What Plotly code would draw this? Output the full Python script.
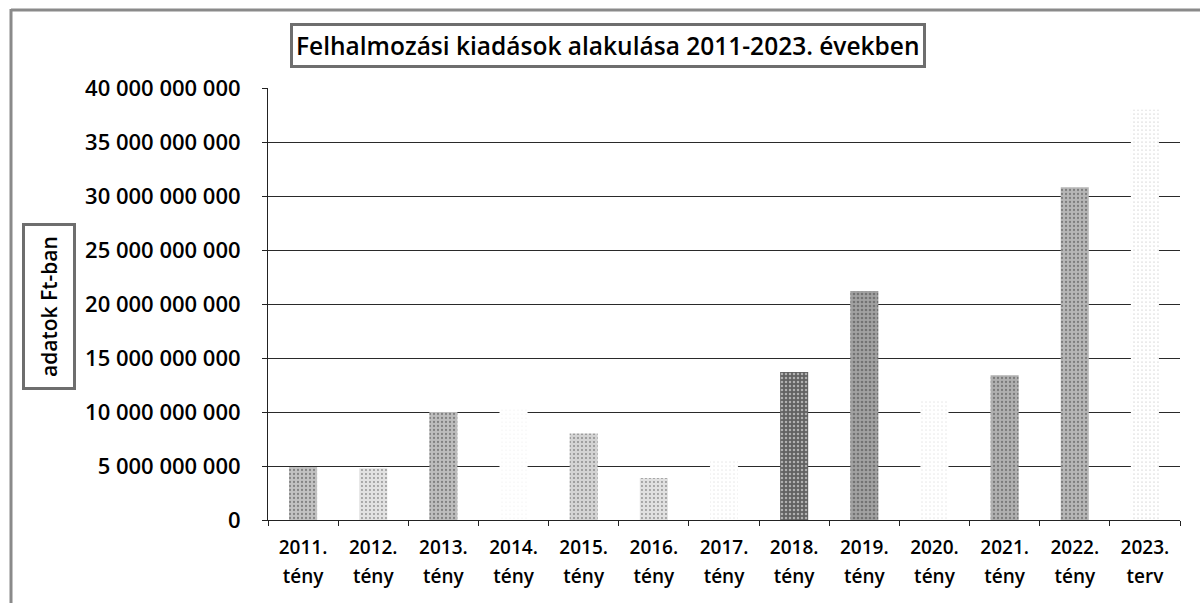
import plotly.graph_objects as go

# Felhalmozási kiadások (Ft) évenként
years = ["2011.", "2012.", "2013.", "2014.", "2015.", "2016.", "2017.",
         "2018.", "2019.", "2020.", "2021.", "2022.", "2023."]
kinds = ["tény", "tény", "tény", "tény", "tény", "tény", "tény",
         "tény", "tény", "tény", "tény", "tény", "terv"]
values = [4.9e9, 4.8e9, 10.0e9, 10.4e9, 8.0e9, 3.9e9, 5.6e9,
          13.7e9, 21.2e9, 11.1e9, 13.4e9, 30.8e9, 38.0e9]

y_tickvals = [0, 5e9, 10e9, 15e9, 20e9, 25e9, 30e9, 35e9, 40e9]
y_ticktext = ["0", "5 000 000 000", "10 000 000 000", "15 000 000 000",
              "20 000 000 000", "25 000 000 000", "30 000 000 000",
              "35 000 000 000", "40 000 000 000"]

categories = [f"{y} {k}" for y, k in zip(years, kinds)]
x_ticktext = [f"<span style='font-size:19px'>{y}</span><br>"
              f"<span style='font-size:19px'>{k}</span>" for y, k in zip(years, kinds)]

# grayscale fills: base colour, dot colour, dot density
bg_colors = ["#c2c2c2", "#e2e2e2", "#bdbdbd", "#ffffff", "#d3d3d3", "#e0e0e0", "#ffffff",
             "#626262", "#a2a2a2", "#ffffff", "#b0b0b0", "#b6b6b6", "#ffffff"]
fg_colors = ["#666666", "#888888", "#666666", "#b0b0b0", "#777777", "#888888", "#999999",
             "#222222", "#2e2e2e", "#999999", "#555555", "#666666", "#999999"]
solidity = [0.25, 0.18, 0.25, 0.02, 0.2, 0.18, 0.04,
            0.3, 0.35, 0.04, 0.25, 0.25, 0.05]

FONT = "Open Sans"

fig = go.Figure(go.Bar(
    x=categories,
    y=values,
    marker=dict(
        color=bg_colors,
        line=dict(width=0),
        pattern=dict(shape=".", fgcolor=fg_colors, size=4,
                     solidity=solidity, fillmode="overlay"),
    ),
    hoverinfo="skip",
))

fig.update_layout(
    width=1200, height=603,
    margin=dict(l=268, r=20, t=88, b=83),
    paper_bgcolor="white", plot_bgcolor="white",
    bargap=0.6,
    showlegend=False,
    font=dict(family=FONT, color="black"),
)

fig.update_yaxes(
    range=[0, 40e9],
    tickvals=y_tickvals, ticktext=y_ticktext,
    tickfont=dict(family=FONT, size=22, weight=600, color="black"),
    showgrid=True, gridcolor="#2a2a2a", gridwidth=1.4,
    showline=True, linecolor="#222222", linewidth=1,
    ticks="outside", ticklen=5, tickcolor="#222222",
    ticklabelstandoff=17,
    zeroline=False,
    layer="below traces",
)
fig.update_xaxes(
    tickvals=categories, ticktext=x_ticktext,
    tickfont=dict(family=FONT, size=22, weight=600, color="black"),
    showline=True, linecolor="#222222", linewidth=1,
    ticks="outside", ticklen=5, tickcolor="#222222",
    tickson="boundaries",
    ticklabelstandoff=7,
)

plot_left, plot_right, plot_top, plot_bottom = 268, 1180, 88, 520
pw, ph = plot_right - plot_left, plot_bottom - plot_top


def px(xp):
    return (xp - plot_left) / pw


def py(yp):
    return (plot_bottom - yp) / ph


# chart title in a framed box
fig.add_annotation(
    text="Felhalmozási kiadások alakulása 2011-2023. években",
    xref="paper", yref="paper", x=px(608), y=py(46),
    xanchor="center", yanchor="middle", showarrow=False,
    font=dict(family=FONT, size=24.5, weight=600, color="black"),
    bordercolor="#6e6e6e", borderwidth=3, borderpad=3, bgcolor="white",
)

# y-axis title in a framed box
fig.add_annotation(
    text="adatok Ft-ban",
    xref="paper", yref="paper", x=px(49), y=py(307),
    xanchor="center", yanchor="middle", showarrow=False, textangle=-90,
    font=dict(family=FONT, size=21, weight=600, color="black"),
    bordercolor="#6e6e6e", borderwidth=3, borderpad=10, bgcolor="white",
)

# outer chart frame (left and top edges)
frame = dict(color="#8a8a8a", width=3)
fig.add_shape(type="line", xref="paper", yref="paper",
              x0=px(11), x1=px(11), y0=py(9), y1=py(603), line=frame)
fig.add_shape(type="line", xref="paper", yref="paper",
              x0=px(11), x1=px(1200), y0=py(10), y1=py(10), line=frame)

fig.write_html("out.html")
